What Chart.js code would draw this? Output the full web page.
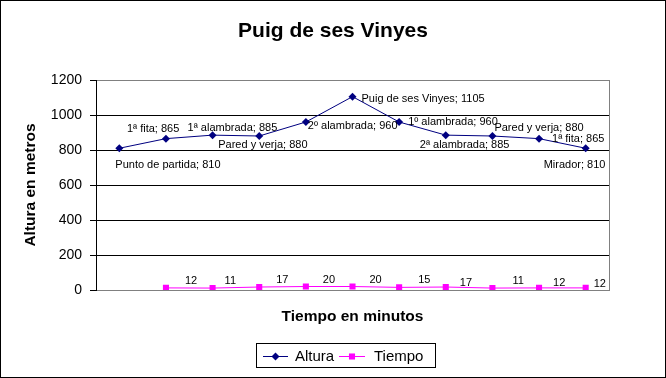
<!DOCTYPE html>
<html>
<head>
<meta charset="utf-8">
<script src="https://cdn.jsdelivr.net/npm/chart.js@4"></script>
<style>
  html, body { margin: 0; padding: 0; background: #fff; }
  canvas { display: block; }
</style>
</head>
<body>
<canvas id="chart" width="666" height="378"></canvas>
<script>
// Data
const puntos = [
  'Punto de partida', '1ª fita', '1ª alambrada', 'Pared y verja', '2º alambrada',
  'Puig de ses Vinyes', '1º alambrada', '2ª alambrada', 'Pared y verja', '1ª fita', 'Mirador',
];
const altura = [810, 865, 885, 880, 960, 1105, 960, 885, 880, 865, 810];
const tiempo = [null, 12, 11, 17, 20, 20, 15, 17, 11, 12, 12];
const yTicks = [0, 200, 400, 600, 800, 1000, 1200];

// where each data label sits relative to its point (dx to text start, dy to text middle)
const alturaLabelPos = [
  [-4, 17], [-39, -10], [-25, -7], [-41, 9], [2, 4], [9, 2],
  [9, 0], [-26, 10], [2, -8], [13, 0], [-42, 17],
];
const tiempoLabelPos = [
  null, [19, -7], [12, -7], [17, -7], [17, -7], [17, -7],
  [19, -7], [14, -4], [20, -7], [14, -5], [8, -4],
];

const FONT = "'Liberation Sans', Arial, sans-serif";
const NAVY = '#000080';
const MAGENTA = '#ff00ff';

Chart.defaults.font.family = FONT;
Chart.defaults.color = '#000';

// white background, outer black frame, title centred on the whole picture
const framePlugin = {
  id: 'frame',
  beforeDraw(c) {
    const ctx = c.ctx;
    ctx.save();
    ctx.fillStyle = '#fff';
    ctx.fillRect(0, 0, c.width, c.height);
    ctx.strokeStyle = '#000';
    ctx.lineWidth = 1;
    ctx.strokeRect(0.5, 0.5, c.width - 1, c.height - 1);
    ctx.font = 'bold 21px ' + FONT;
    ctx.fillStyle = '#000';
    ctx.textAlign = 'center';
    ctx.textBaseline = 'middle';
    ctx.fillText('Puig de ses Vinyes', c.width / 2, 31);
    ctx.restore();
  },
  beforeDatasetsDraw(c) {
    // grey right edge of the plot area
    const { ctx, chartArea } = c;
    ctx.save();
    ctx.strokeStyle = '#808080';
    ctx.lineWidth = 1;
    const x = Math.round(chartArea.right) + 0.5;
    ctx.beginPath();
    ctx.moveTo(x, chartArea.top);
    ctx.lineTo(x, chartArea.bottom);
    ctx.stroke();
    ctx.restore();
  },
};

// "name; value" labels next to points
const pointLabels = {
  id: 'pointLabels',
  afterDatasetsDraw(c) {
    const ctx = c.ctx;
    ctx.save();
    ctx.font = '11px ' + FONT;
    ctx.fillStyle = '#000';
    ctx.textAlign = 'left';
    ctx.textBaseline = 'middle';
    c.getDatasetMeta(0).data.forEach((pt, i) => {
      const [dx, dy] = alturaLabelPos[i];
      ctx.fillText(puntos[i] + '; ' + altura[i], pt.x + dx, pt.y + dy);
    });
    c.getDatasetMeta(1).data.forEach((pt, i) => {
      if (tiempo[i] == null) return;
      const [dx, dy] = tiempoLabelPos[i];
      ctx.fillText(String(tiempo[i]), pt.x + dx, pt.y + dy);
    });
    ctx.restore();
  },
};

// boxed legend with line + marker samples
const boxLegend = {
  id: 'boxLegend',
  afterDraw(c) {
    const ctx = c.ctx;
    ctx.save();
    ctx.strokeStyle = '#000';
    ctx.lineWidth = 1;
    ctx.strokeRect(256.5, 343.5, 179, 24);
    const y = 356;
    const items = [
      { x0: 263, x1: 288, tx: 295, ds: c.data.datasets[0] },
      { x0: 339, x1: 365, tx: 374, ds: c.data.datasets[1] },
    ];
    ctx.font = '15px ' + FONT;
    ctx.textBaseline = 'middle';
    items.forEach((it) => {
      ctx.strokeStyle = it.ds.borderColor;
      ctx.beginPath();
      ctx.moveTo(it.x0, y + 0.5);
      ctx.lineTo(it.x1, y + 0.5);
      ctx.stroke();
      ctx.fillStyle = it.ds.pointBackgroundColor;
      Chart.helpers.drawPoint(ctx, {
        pointStyle: it.ds.pointStyle, radius: it.ds.pointRadius, borderWidth: 0, rotation: 0,
      }, (it.x0 + it.x1) / 2, y + 0.5);
      ctx.fillStyle = '#000';
      ctx.fillText(it.ds.label, it.tx, y + 1);
    });
    ctx.restore();
  },
};

new Chart(document.getElementById('chart'), {
  type: 'line',
  data: {
    labels: puntos,
    datasets: [
      {
        label: 'Altura',
        data: altura,
        borderColor: NAVY,
        backgroundColor: NAVY,
        borderWidth: 1,
        tension: 0,
        pointStyle: 'rectRot',
        pointRadius: 4,
        pointBackgroundColor: NAVY,
        pointBorderColor: NAVY,
        pointBorderWidth: 0,
      },
      {
        label: 'Tiempo',
        data: tiempo,
        borderColor: MAGENTA,
        backgroundColor: MAGENTA,
        borderWidth: 1,
        tension: 0,
        pointStyle: 'rect',
        pointRadius: 4.3,
        pointBackgroundColor: MAGENTA,
        pointBorderColor: MAGENTA,
        pointBorderWidth: 0,
        spanGaps: false,
      },
    ],
  },
  options: {
    responsive: false,
    animation: false,
    devicePixelRatio: 1,
    layout: {
      padding: { left: 0, right: 57, top: 80, bottom: 0 },
    },
    scales: {
      x: {
        offset: true,
        grid: { display: false },
        border: { display: true, color: '#808080' },
        ticks: { display: false },
        title: {
          display: true,
          text: 'Tiempo en minutos',
          font: { size: 15.5, weight: 'bold' },
          padding: { top: 0, bottom: 52 },
        },
        afterFit: (scale) => { scale.height = 88; },
      },
      y: {
        min: 0,
        max: 1200,
        afterBuildTicks: (scale) => { scale.ticks = yTicks.map((v) => ({ value: v })); },
        grid: {
          color: (ctx) => (ctx.tick && (ctx.tick.value === 0 || ctx.tick.value === 1200) ? '#808080' : '#000'),
          tickColor: '#000',
          tickLength: 6,
        },
        border: { display: true, color: '#000' },
        ticks: {
          font: { size: 14 },
          padding: 8,
          callback: (value) => String(value),
        },
        title: {
          display: true,
          text: 'Altura en metros',
          font: { size: 15.5, weight: 'bold' },
          padding: { top: 21, bottom: 0 },
        },
        afterFit: (scale) => { scale.width = 96; },
      },
    },
    plugins: {
      legend: { display: false },
      tooltip: { enabled: false },
      title: { display: false },
    },
  },
  plugins: [framePlugin, pointLabels, boxLegend],
});
</script>
</body>
</html>
